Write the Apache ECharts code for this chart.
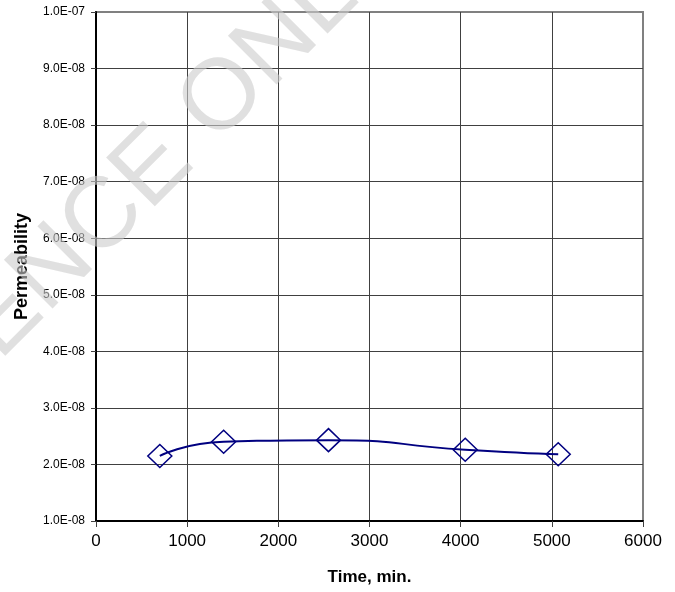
<!DOCTYPE html>
<html>
<head>
<meta charset="utf-8">
<script src="https://cdn.jsdelivr.net/npm/echarts@6/dist/echarts.min.js"></script>
<style>
  html, body { margin: 0; padding: 0; background: #fff; }
  #chart { width: 675px; height: 592px; }
</style>
</head>
<body>
<div id="chart"></div>
<script>
// data
var timeMin = [700, 1400, 2550, 4050, 5070];
var permeability = [2.15e-8, 2.40e-8, 2.43e-8, 2.26e-8, 2.18e-8];

document.addEventListener('DOMContentLoaded', function () {
    var chartDom = document.getElementById('chart');
    var myChart = echarts.init(chartDom);
    var option;

    var points = timeMin.map(function (t, i) { return [t, permeability[i]]; });

    // Excel style scientific labels, e.g. 1.0E-07
    function sci(v) {
        var s = v.toExponential(1).toUpperCase();
        return s.replace(/E([+-])(\d)$/, 'E$10$2');
    }

    option = {
        animation: false,
        backgroundColor: '#fff',
        textStyle: { fontFamily: 'Liberation Sans, Arial, sans-serif' },
        grid: {
            left: 96,
            right: 32,
            top: 12,
            bottom: 71,
            show: true,
            borderColor: '#808080',
            borderWidth: 2,
            backgroundColor: 'transparent'
        },
        xAxis: {
            type: 'value',
            min: 0,
            max: 6000,
            interval: 1000,
            name: 'Time, min.',
            nameLocation: 'middle',
            nameGap: 48,
            nameTextStyle: { fontSize: 17, fontWeight: 'bold', color: '#000' },
            axisLine: { show: true, onZero: false, lineStyle: { color: '#000', width: 2 } },
            axisTick: { show: true, length: 6, lineStyle: { color: '#404040' } },
            axisLabel: { fontSize: 17, color: '#000', margin: 12, formatter: function (v) { return String(v); } },
            splitLine: { show: true, showMaxLine: false, lineStyle: { color: '#404040', width: 1 } }
        },
        yAxis: {
            type: 'value',
            min: 1e-8,
            max: 1e-7,
            interval: 1e-8,
            name: 'Permeability',
            nameLocation: 'middle',
            nameRotate: 90,
            nameGap: 65,
            nameTextStyle: { fontSize: 18, fontWeight: 'bold', color: '#000' },
            axisLine: { show: true, onZero: false, lineStyle: { color: '#000', width: 2 } },
            axisTick: { show: true, length: 5, lineStyle: { color: '#404040' } },
            axisLabel: { fontSize: 12, color: '#000', margin: 11, formatter: sci },
            splitLine: { show: true, showMaxLine: false, lineStyle: { color: '#404040', width: 1 } }
        },
        series: [
            {
                type: 'line',
                data: points,
                smooth: 0.6,
                symbol: 'diamond',
                symbolSize: [24, 23],
                lineStyle: { color: '#000080', width: 2 },
                itemStyle: { color: 'transparent', borderColor: '#000080', borderWidth: 1.5 },
                z: 5
            }
        ],
        graphic: [
            {
                type: 'text',
                x: 62,
                y: 260,
                rotation: Math.PI / 4,
                z: 100,
                silent: true,
                style: {
                    text: 'REFERENCE ONLY',
                    font: '100px "Liberation Sans", Arial, sans-serif',
                    fill: 'rgba(204,204,204,0.6)',
                    textAlign: 'center',
                    textVerticalAlign: 'middle'
                }
            }
        ]
    };

    option && myChart.setOption(option);
});
</script>
</body>
</html>
